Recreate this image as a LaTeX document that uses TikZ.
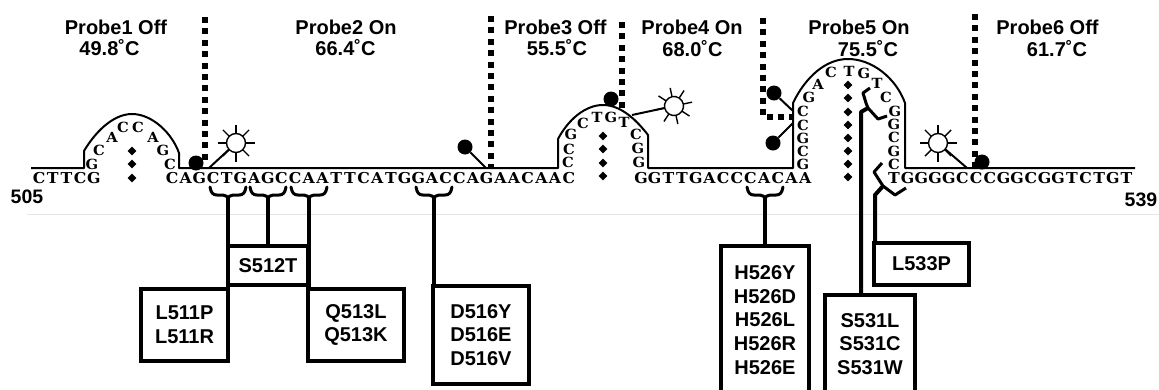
\documentclass[tikz,border=0pt]{standalone}
\usepackage{fontspec}
\setmainfont{Liberation Sans}
\newfontfamily\seqfont[FakeStretch=1.05]{DejaVu Serif}
\usetikzlibrary{shapes.geometric}
\makeatletter
\def\seqletters#1{\ifx#1\relax\else\makebox[13.68pt]{#1}\expandafter\seqletters\fi}
\newcommand{\seqrow}[1]{\seqletters#1\relax}
\makeatother
\tikzset{
  title/.style={font=\fontsize{20}{22}\selectfont\bfseries,inner sep=0pt},
  endlabel/.style={font=\fontsize{19.5}{20}\selectfont\bfseries,inner sep=0pt},
  seqtext/.style={font=\seqfont\bfseries\fontsize{15}{18}\selectfont,inner sep=0pt,anchor=base west},
  looptext/.style={font=\seqfont\bfseries\fontsize{14}{16}\selectfont,inner sep=0pt},
  strand/.style={line width=2pt,line join=round},
  probe/.style={line width=5.5pt,dash pattern=on 6pt off 5.4pt},
  quencher/.style={circle,fill=black,inner sep=0pt,minimum size=15pt},
  tether/.style={line width=2pt},
  mutbox/.style={draw,line width=3.6pt,font=\fontsize{20}{23.6}\selectfont\bfseries,align=center,inner sep=0pt},
  stem/.style={line width=4pt},
  pair/.style={diamond,fill=black,inner sep=0pt,minimum width=9pt,minimum height=9pt},
  sun/.pic={
    \draw[line width=1.4pt,fill=white] (0,0) circle (9.5pt);
    \foreach \a in {0,45,...,315} \draw[line width=1.4pt] (\a:9.5pt) -- (\a:18.5pt);
  },
  curly/.pic={
    \draw[line width=3pt,line cap=round,line join=round]
      (-18,-9) .. controls (-17,-3) and (-15,-1) .. (-11,-1) -- (-5,-1)
      .. controls (-2,-1) and (0,1) .. (0,3)
      .. controls (0,1) and (2,-1) .. (5,-1) -- (11,-1)
      .. controls (15,-1) and (17,-3) .. (18,-9);
  },
}
\begin{document}
\begin{tikzpicture}[x=1pt,y=-1pt]
\useasboundingbox (0,0) rectangle (1159,389);
\clip (0,0) rectangle (1159,389);
\draw[black!10,line width=0.8pt] (27,214) -- (1159,214);

% titles
\node[title] (t1a) at (116,27) {Probe1 Off};
\node[title] (t1b) at (109.5,48) {49.8˚C};
\node[title] (t2a) at (346,27) {Probe2 On};
\node[title] (t2b) at (345.5,48) {66.4˚C};
\node[title] (t3a) at (555.5,27) {Probe3 Off};
\node[title] (t3b) at (557,48) {55.5˚C};
\node[title] (t4a) at (692,27) {Probe4 On};
\node[title] (t4b) at (692.5,49) {68.0˚C};
\node[title] (t5a) at (859,27) {Probe5 On};
\node[title] (t5b) at (868,49) {75.5˚C};
\node[title] (t6a) at (1047.5,27) {Probe6 Off};
\node[title] (t6b) at (1057,49) {61.7˚C};
\node[endlabel] (n505) at (27,197) {505};
\node[endlabel] (n539) at (1141,200) {539};

% probe boundaries
\coordinate (d1a) at (205,17); \coordinate (d1b) at (205,165);
\coordinate (d2a) at (491,16); \coordinate (d2b) at (491,167);
\coordinate (d3a) at (622,22); \coordinate (d3b) at (622,108);
\coordinate (d4a) at (763,18); \coordinate (d4b) at (763,117); \coordinate (d4c) at (793,117);
\coordinate (d5a) at (975,14); \coordinate (d5b) at (975,167);
\draw[probe] (d1a) -- (d1b);
\draw[probe] (d2a) -- (d2b);
\draw[probe] (d3a) -- (d3b);
\draw[probe] (d4a) -- (d4b) -- (d4c);
\draw[probe] (d5a) -- (d5b);

% strand with hairpins
\draw[strand] (31,168) -- (84,168) -- (84,151)
  .. controls (94,134) and (112,114) .. (132,114)
  .. controls (152,114) and (172,133) .. (179,153)
  -- (179,168) -- (558,168) -- (558,139)
  .. controls (568,120) and (585,105) .. (603,105)
  .. controls (622,105) and (638,122) .. (648,135)
  -- (648,168) -- (793,168) -- (793,103)
  .. controls (805,78) and (825,59) .. (848,59)
  .. controls (872,59) and (896,78) .. (905,103)
  -- (905,168) -- (1135,168);

% sequence
\node[seqtext] (s1) at (32,183) {\seqrow{CTTCG}};
\node[seqtext] (s2) at (165,183) {\seqrow{CAGCTGAGCCAATTCATGGACCAGAACAAC}};
\node[seqtext] (s3) at (634,183) {\seqrow{GGTTGACCCACAA}};
\node[seqtext] (s4) at (887,183) {\seqrow{TGGGGCCCGGCGGTCTGT}};

% hairpin letters
\foreach \x/\y/\l [count=\i] in {92/164/G,99/150/C,112/137/A,123/127/C,138/127/C,153/137/A,163/150/G,170/164/C,
  568/162/C,569/149/C,571/134/G,583/123/C,597/117/T,611/117/G,624/122/T,636/134/C,638/148/G,639/162/G,
  803/164/G,803/151/C,803/138/G,803/125/C,803/111/C,809/97/G,818/84/A,831/72/C,849/71/T,864/73/G,877/83/T,886/97/C,895/111/G,894/124/G,894/137/C,894/151/G,894/164/C}
  \node[looptext] (lp\i) at (\x,\y) {\l};

% base pair marks
\foreach \x/\y [count=\i] in {132/151,132/164,132/178,603/136,603/149,603/163,603/176,
  848/85,848/98,848/112,848/125,848/138,848/151,848/164,848/177}
  \node[pair] (bp\i) at (\x,\y) {};

% quenchers
\node[quencher] (q1) at (196,163) {};
\node[quencher] (q2) at (465,147) {};
\node[quencher] (q3) at (611,99) {};
\node[quencher] (q4) at (774,93) {};
\node[quencher] (q5) at (773,143) {};
\node[quencher] (q6) at (982,162) {};
\coordinate (q2s) at (486,168);
\coordinate (q4s) at (793,111);
\coordinate (q5s) at (793,123);
\draw[tether] (q2) -- (q2s);
\draw[tether] (q4) -- (q4s);
\draw[tether] (q5) -- (q5s);

% fluorophores
\coordinate (f1) at (236,143); \coordinate (f1s) at (209,168);
\coordinate (f2) at (674,106); \coordinate (f2s) at (632,115);
\coordinate (f3) at (938,143); \coordinate (f3s) at (967,168);
\draw[tether] (f1s) -- (f1);
\draw[tether] (f2s) -- (f2);
\draw[tether] (f3s) -- (f3);
\pic at (f1) {sun};
\pic[rotate=12] at (f2) {sun};
\pic at (f3) {sun};

% mutation boxes
\node[mutbox,minimum width=80pt,minimum height=39pt] (s512) at (268,265.5) {S512T};
\node[mutbox,minimum width=87pt,minimum height=72pt] (l511) at (184.5,325) {L511P\\L511R};
\node[mutbox,minimum width=96pt,minimum height=72pt] (q513) at (356,325) {Q513L\\Q513K};
\node[mutbox,minimum width=96pt,minimum height=98pt] (d516) at (481,335) {D516Y\\D516E\\D516V};
\node[mutbox,minimum width=88pt,minimum height=148pt] (h526) at (765,320) {H526Y\\H526D\\H526L\\H526R\\H526E};
\node[mutbox,minimum width=90pt,minimum height=98pt] (s531) at (870,344) {S531L\\S531C\\S531W};
\node[mutbox,minimum width=95pt,minimum height=42pt] (l533) at (921.5,264) {L533P};

% brackets
\coordinate (b1) at (228,196);
\coordinate (b2) at (268,196);
\coordinate (b3) at (309,196);
\coordinate (b4) at (434,196);
\coordinate (b5) at (765,196);
\pic at (b1) {curly};
\pic at (b2) {curly};
\pic at (b3) {curly};
\pic at (b4) {curly};
\pic at (b5) {curly};
\draw[stem] (b1) -- (b1 |- l511.north);
\draw[stem] (b2) -- (s512.north);
\draw[stem] (b3) -- (b3 |- q513.north);
\draw[stem] (b4) -- (b4 |- d516.north);
\draw[stem] (b5) -- (h526.north);

% sideways brackets for 531 and 533
\coordinate (b6) at (868,108);
\coordinate (b6s) at (861,112);
\coordinate (b7) at (883,186);
\coordinate (b7s) at (875,195);
\draw[line width=3pt,line join=round] (870,88) -- (863,93) -- (866,103) -- (b6) -- (878,119) -- (887,116);
\draw[line width=3pt,line join=round] (882,163) -- (874,172) -- (b7) -- (895,195) -- (906,188);
\draw[stem,line join=round] (b6) -- (b6s) -- (s531.north -| b6s);
\draw[stem,line join=round] (b7) -- (b7s) -- (l533.north -| b7s);
\end{tikzpicture}
\end{document}
